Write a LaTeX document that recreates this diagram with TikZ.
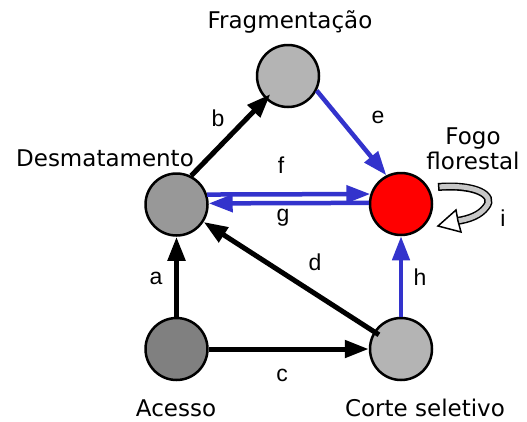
\documentclass[tikz,border=0pt]{standalone}
\usepackage{fontspec}
\setmainfont{DejaVu Sans}
\newfontfamily\letterfont{Liberation Sans}
\usetikzlibrary{arrows.meta}
\definecolor{fireblue}{RGB}{51, 51, 204}
\definecolor{fragfill}{RGB}{180, 180, 180}
\definecolor{desmfill}{RGB}{152, 152, 152}
\definecolor{acesfill}{RGB}{128, 128, 128}
\definecolor{cortefill}{RGB}{180, 180, 180}
\definecolor{loopgray}{RGB}{200, 200, 200}

\begin{document}
\begin{tikzpicture}[x=1pt, y=-1pt,
  factor/.style={circle, draw, line width=2.5pt, minimum size=62pt, inner sep=0pt},
  title/.style={font=\fontsize{23}{25}\selectfont, inner sep=0pt, align=center},
  tag/.style={font=\letterfont\fontsize{23}{25}\selectfont, inner sep=0pt},
  cause/.style={line width=5pt, -{Triangle[length=24pt, width=17pt]}},
  fire/.style={cause, line width=4.5pt, draw=fireblue, fill=fireblue}
]
  \useasboundingbox (0,0) rectangle (527,421);

  \node[factor, fill=fragfill] (frag) at (288,76) {};
  \node[factor, fill=desmfill] (desm) at (176.5,204.5) {};
  \node[factor, fill=red] (fogo) at (401,204) {};
  \node[factor, fill=acesfill] (aces) at (176.5,349) {};
  \node[factor, fill=cortefill] (corte) at (401,349) {};

  \node[title] (fragtxt) at (290,22) {Fragmentação};
  \node[title] (desmtxt) at (105,158) {Desmatamento};
  \node[title] (fogotxt) at (473,149) {Fogo\\florestal};
  \node[title] (acestxt) at (176,408) {Acesso};
  \node[title] (cortetxt) at (425,408) {Corte seletivo};

  \draw[cause] (aces) -- (desm);
  \draw[cause, shorten >=-7pt] (desm.63) -- (frag);
  \draw[cause] (aces) -- (corte);
  \draw[cause, shorten <=-6pt] (corte) -- (desm);
  \draw[fire] (frag.-27) -- (fogo.117);
  \draw[fire] (desm.18) -- (fogo.162);
  \draw[fire] (fogo.178) -- (desm.2);
  \draw[fire] (corte) -- (fogo);

  \draw[line width=8pt] (438,187) .. controls (475,184) and (496,195) .. (486,207) .. controls (480,215) and (470,219) .. (457,221);
  \draw[line width=5pt, loopgray, shorten <=1.5pt] (438,187) .. controls (475,184) and (496,195) .. (486,207) .. controls (480,215) and (470,219) .. (457,221);
  \draw[line width=1.5pt, fill=white, line join=miter] (438,226) -- (456,210) -- (458,221) -- (461,232) -- cycle;

  \node[tag] (ta) at (156,278) {a};
  \node[tag] (tb) at (218,118) {b};
  \node[tag] (tc) at (282,375) {c};
  \node[tag] (td) at (315,262) {d};
  \node[tag] (te) at (378,117) {e};
  \node[tag] (tf) at (281,165) {f};
  \node[tag] (tg) at (283,218) {g};
  \node[tag] (th) at (420,277) {h};
  \node[tag] (ti) at (503,218) {i};
\end{tikzpicture}
\end{document}
